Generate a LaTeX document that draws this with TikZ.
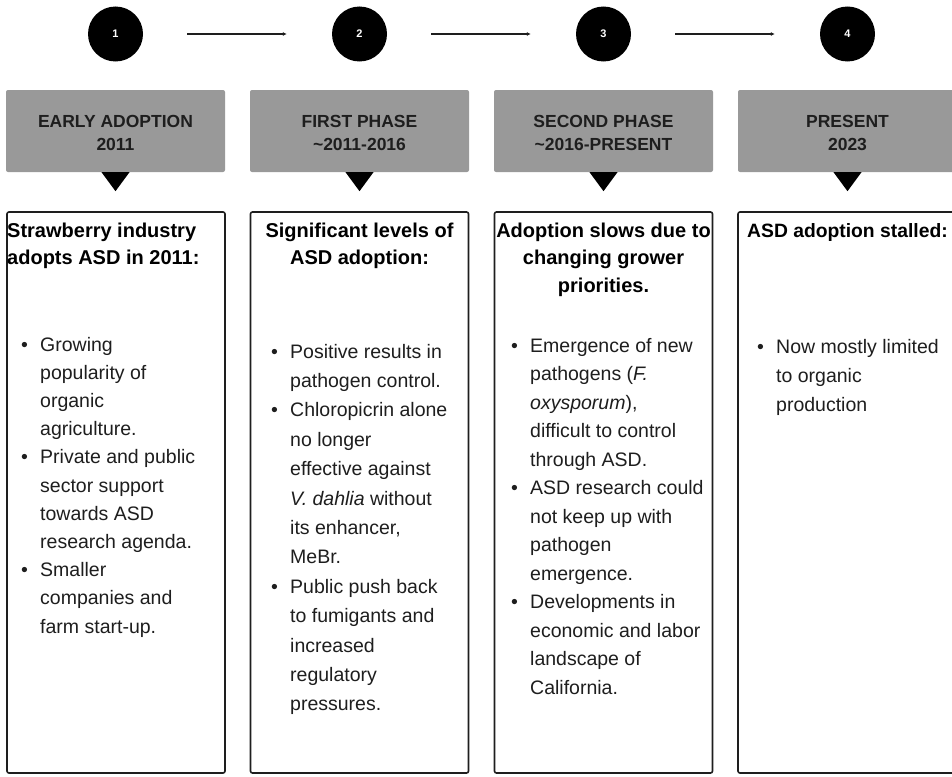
\documentclass[tikz,border=0pt]{standalone}
\usepackage{fontspec}
\setmainfont{Liberation Sans}
\usetikzlibrary{arrows.meta}
\definecolor{hdrgray}{HTML}{999999}
\definecolor{ink}{HTML}{1E1E1E}
\begin{document}
\begin{tikzpicture}[x=1pt,y=-1pt,
  num/.style={circle,fill=black,text=white,minimum size=55pt,inner sep=0pt,font=\bfseries\fontsize{11}{13}\selectfont},
  flow/.style={draw=ink,line width=1.1pt,-{Latex[length=4pt,width=4pt]},shorten <=44pt,shorten >=45pt},
  hdr/.style={rectangle,fill=hdrgray,rounded corners=2pt,minimum width=219pt,minimum height=82pt,inner sep=0pt},
  hdrtxt/.style={inner sep=0pt,anchor=base,text=ink,font=\bfseries\fontsize{17.5}{23}\selectfont},
  panel/.style={rectangle,draw=ink,line width=1.6pt,rounded corners=2pt,minimum width=218pt,minimum height=561pt,inner sep=0pt},
  ttl/.style={inner sep=0pt,text=black,font=\bfseries\fontsize{20}{27.5}\selectfont},
  lst/.style={inner sep=0pt,anchor=base west,text=ink,font=\fontsize{19.5}{#1}\selectfont},
  tip/.style={fill=black}
]
\useasboundingbox[fill=white] (0,0) rectangle (952,776);

% step circles
\node[num] (c1) at (115.5,34) {1};
\node[num] (c2) at (359.5,34) {2};
\node[num] (c3) at (603.5,34) {3};
\node[num] (c4) at (847.5,34) {4};
\draw[flow] (c1) -- (c2);
\draw[flow] (c2) -- (c3);
\draw[flow] (c3) -- (c4);

% headers
\node[hdr] (h1) at (115.5,131) {};
\node[hdr] (h2) at (359.5,131) {};
\node[hdr] (h3) at (603.5,131) {};
\node[hdr] (h4) at (847.5,131) {};
\foreach \h in {h1,h2,h3,h4}{
  \fill[tip] (\h.south) ++(-14,0) -- ++(28,0) -- ++(-14,19) -- cycle;
}
\node[hdrtxt] (ht1) at (115.5,127) {\begin{tabular}[t]{@{}c@{}}EARLY ADOPTION\\2011\end{tabular}};
\node[hdrtxt] (ht2) at (359.5,127) {\begin{tabular}[t]{@{}c@{}}FIRST PHASE\\\textasciitilde 2011-2016\end{tabular}};
\node[hdrtxt] (ht3) at (603.5,127) {\begin{tabular}[t]{@{}c@{}}SECOND PHASE\\\textasciitilde 2016-PRESENT\end{tabular}};
\node[hdrtxt] (ht4) at (847.5,127) {\begin{tabular}[t]{@{}c@{}}PRESENT\\2023\end{tabular}};

% panels
\node[panel] (p1) at (116,492.5) {};
\node[panel] (p2) at (359.5,492.5) {};
\node[panel] (p3) at (603.5,492.5) {};
\node[panel,minimum width=224pt] (p4) at (850,492.5) {};

% titles
\node[ttl,anchor=base west] (t1) at (7,237) {\begin{tabular}[t]{@{}l@{}}Strawberry industry\\adopts ASD in 2011:\end{tabular}};
\node[ttl,anchor=base] (t2) at (359.5,237) {\begin{tabular}[t]{@{}c@{}}Significant levels of\\ASD adoption:\end{tabular}};
\node[ttl,anchor=base] (t3) at (603.5,237) {\begin{tabular}[t]{@{}c@{}}Adoption slows due to\\changing grower\\priorities.\end{tabular}};
\node[ttl,anchor=base west,font=\bfseries\fontsize{19.3}{27.5}\selectfont] (t4) at (747,237) {\begin{tabular}[t]{@{}l@{}}ASD adoption stalled:\end{tabular}};

% bullet lists
\node[lst=28.2] (l1) at (21,351) {\begin{tabular}[t]{@{}l@{}l@{}}
\makebox[19pt][l]{\textbullet} & Growing\\
 & popularity of\\
 & organic\\
 & agriculture.\\
\makebox[19pt][l]{\textbullet} & Private and public\\
 & sector support\\
 & towards ASD\\
 & research agenda.\\
\makebox[19pt][l]{\textbullet} & Smaller\\
 & companies and\\
 & farm start-up.
\end{tabular}};

\node[lst=29.4] (l2) at (271,358) {\begin{tabular}[t]{@{}l@{}l@{}}
\makebox[19pt][l]{\textbullet} & Positive results in\\
 & pathogen control.\\
\makebox[19pt][l]{\textbullet} & Chloropicrin alone\\
 & no longer\\
 & effective against\\
 & \textit{V. dahlia} without\\
 & its enhancer,\\
 & MeBr.\\
\makebox[19pt][l]{\textbullet} & Public push back\\
 & to fumigants and\\
 & increased\\
 & regulatory\\
 & pressures.
\end{tabular}};

\node[lst=28.5] (l3) at (511,352) {\begin{tabular}[t]{@{}l@{}l@{}}
\makebox[19pt][l]{\textbullet} & Emergence of new\\
 & pathogens (\textit{F.}\\
 & \textit{oxysporum}),\\
 & difficult to control\\
 & through ASD.\\
\makebox[19pt][l]{\textbullet} & ASD research could\\
 & not keep up with\\
 & pathogen\\
 & emergence.\\
\makebox[19pt][l]{\textbullet} & Developments in\\
 & economic and labor\\
 & landscape of\\
 & California.
\end{tabular}};

\node[lst=29] (l4) at (757,353) {\begin{tabular}[t]{@{}l@{}l@{}}
\makebox[19pt][l]{\textbullet} & Now mostly limited\\
 & to organic\\
 & production
\end{tabular}};
\end{tikzpicture}
\end{document}
